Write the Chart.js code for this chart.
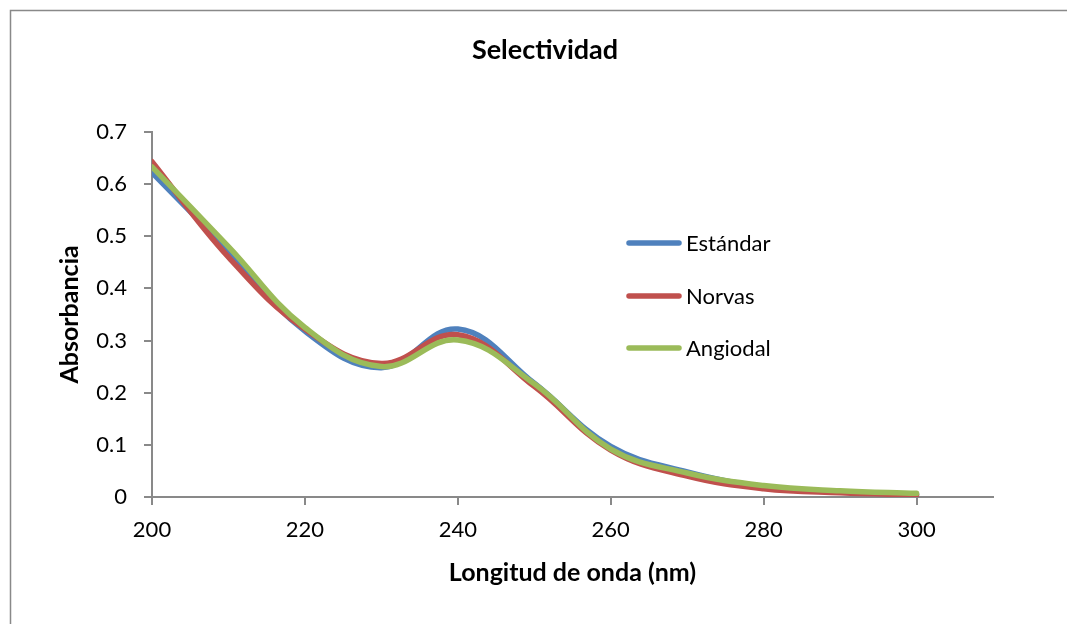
<!DOCTYPE html>
<html><head><meta charset="utf-8">
<script src="https://cdn.jsdelivr.net/npm/chart.js@4/dist/chart.umd.min.js"></script>
<style>html,body{margin:0;padding:0;background:#fff;overflow:hidden}#wrap{width:1067px;height:624px;position:relative}</style>
</head><body><div id="wrap"><canvas id="c"></canvas></div>
<script>
const wavelengths = [200,210,220,230,240,250,260,270,280,290,300];
const estandar = [0.622,0.472,0.318,0.248,0.322,0.218,0.097,0.048,0.020,0.010,0.005];
const norvas   = [0.643,0.460,0.322,0.256,0.311,0.212,0.090,0.040,0.016,0.008,0.004];
const angiodal = [0.633,0.480,0.325,0.250,0.301,0.217,0.092,0.046,0.022,0.012,0.007];
const seriesNames = ['Estándar','Norvas','Angiodal'];
const seriesColors = ['#4F81BD','#C0504D','#9BBB59'];
const chartTitle = 'Selectividad';
const xTitle = 'Longitud de onda (nm)';
const yTitle = 'Absorbancia';

const toPts = arr => wavelengths.map((x,i)=>({x:x,y:arr[i]}));
const allSeries = [estandar, norvas, angiodal];

Chart.defaults.font.family = 'Lato, "Open Sans", sans-serif';
Chart.defaults.color = '#000';

const axisColor = '#898989';

const framePlugin = {
  id:'frame',
  beforeDraw(chart){
    const ctx = chart.ctx;
    ctx.save();
    ctx.fillStyle='#fff'; ctx.fillRect(0,0,chart.width,chart.height);
    ctx.strokeStyle = axisColor; ctx.lineWidth = 1.5;
    ctx.strokeRect(10.5,10.5,chart.width+20,chart.height+20);
    ctx.restore();
  }
};
const titleShift = {
  id:'titleShift',
  afterLayout(chart){
    const t = chart.titleBlock;
    if(!t) return;
    const w = 300, cx = 545;
    t.left = cx - w/2; t.right = cx + w/2; t.width = w;
  }
};
const legendPlugin = {
  id:'customLegend',
  afterDraw(chart){
    const ctx = chart.ctx;
    const x0 = 629, x1 = 679, tx = 686, ys = [243,296,348];
    chart.data.datasets.forEach((ds,i)=>{
      ctx.save();
      ctx.strokeStyle = ds.borderColor; ctx.lineWidth = 5.5; ctx.lineCap='round';
      ctx.beginPath(); ctx.moveTo(x0, ys[i]); ctx.lineTo(x1, ys[i]); ctx.stroke();
      ctx.fillStyle='#000'; ctx.font='22px Lato, "Open Sans", sans-serif'; ctx.textBaseline='middle';
      ctx.fillText(ds.label, tx, ys[i]+1);
      ctx.restore();
    });
  }
};

new Chart(document.getElementById('c'), {
  type:'scatter',
  data:{
    datasets: allSeries.map((s,i)=>({
      label: seriesNames[i],
      data: toPts(s),
      showLine: true,
      borderColor: seriesColors[i],
      backgroundColor: seriesColors[i],
      borderWidth: 5.5,
      borderCapStyle:'round',
      borderJoinStyle:'round',
      pointRadius: 0,
      pointHoverRadius: 0,
      tension: 0.4,
      order: 2 - i
    }))
  },
  options:{
    responsive:true,
    maintainAspectRatio:false,
    animation:false,
    devicePixelRatio:1,
    layout:{padding:{left:0,right:74,top:0,bottom:0}},
    plugins:{
      legend:{display:false},
      tooltip:{enabled:false},
      title:{display:true,text:chartTitle,color:'#000',
        font:{size:27,weight:'bold'},padding:{top:34,bottom:65.5}}
    },
    scales:{
      x:{
        type:'linear', min:200, max:310,
        afterFit(s){ s.height = 127; },
        ticks:{stepSize:20, includeBounds:false, padding:12, color:'#000', font:{size:22}},
        grid:{drawOnChartArea:false, drawTicks:true, tickLength:8, color:axisColor, lineWidth:2},
        border:{color:axisColor, width:2},
        title:{display:true, text:xTitle, color:'#000', font:{size:25, weight:'bold'}, padding:{top:0,bottom:36}}
      },
      y:{
        type:'linear', min:0, max:0.7,
        afterFit(s){ s.width = 152; },
        ticks:{stepSize:0.1, padding:17, color:'#000', font:{size:22}},
        grid:{drawOnChartArea:false, drawTicks:true, tickLength:8, color:axisColor, lineWidth:2},
        border:{color:axisColor, width:2},
        title:{display:true, text:yTitle, color:'#000', font:{size:25, weight:'bold'}, padding:{top:55,bottom:0}}
      }
    }
  },
  plugins:[framePlugin, titleShift, legendPlugin]
});
</script></body></html>
